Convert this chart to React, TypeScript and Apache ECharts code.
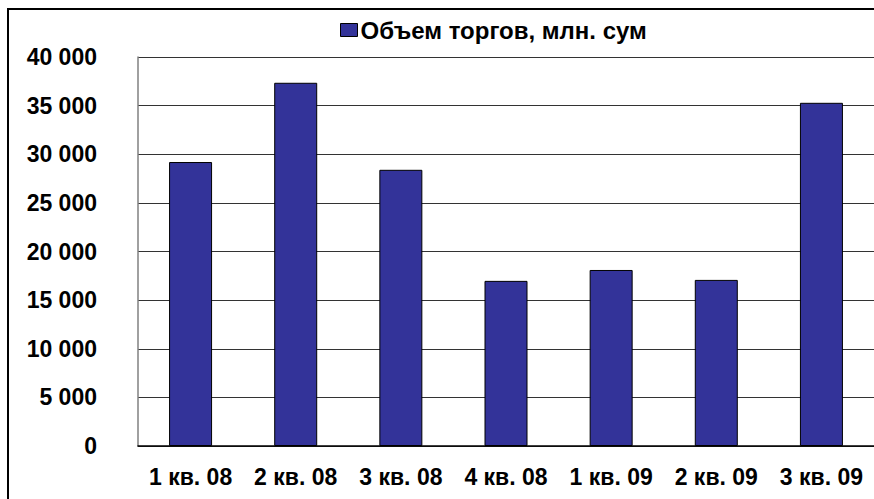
import React, { useEffect, useRef } from "react";
import * as echarts from "echarts";

const categories = ["1 кв. 08", "2 кв. 08", "3 кв. 08", "4 кв. 08", "1 кв. 09", "2 кв. 09", "3 кв. 09"];
const seriesName = "Объем торгов, млн. сум";
const volumes = [29200, 37350, 28400, 16980, 18100, 17080, 35290];
const yTicks = { min: 0, max: 40000, interval: 5000 };

const FONT = "'Liberation Sans', Arial, sans-serif";

function fmt(v: number): string {
  return String(v).replace(/\B(?=(\d{3})+(?!\d))/g, " ");
}

export default function App() {
  const ref = useRef<HTMLDivElement>(null);
  useEffect(() => {
    const chart = echarts.init(ref.current!, null, { renderer: "svg" });
    chart.setOption({
      animation: false,
      backgroundColor: "#ffffff",
      graphic: [
        {
          type: "rect",
          shape: { x: 8, y: 9, width: 900, height: 520 },
          style: { fill: "none", stroke: "#000", lineWidth: 2 },
          silent: true,
        },
      ],
      legend: {
        top: 13,
        left: 335,
        itemWidth: 17,
        itemHeight: 13,
        itemGap: 3,
        icon: "rect",
        textStyle: { fontFamily: FONT, fontWeight: "bold", fontSize: 24, color: "#000", padding: [0, 0, 0, -2] },
        data: [{ name: seriesName, itemStyle: { borderColor: "#000", borderWidth: 1 } }],
      },
      grid: { left: 138, right: -1, top: 57, bottom: 53, containLabel: false },
      xAxis: {
        type: "category",
        data: categories,
        axisLine: { lineStyle: { color: "#000", width: 1.5 } },
        axisTick: { show: false },
        axisLabel: { fontFamily: FONT, fontWeight: "bold", fontSize: 23, color: "#000", margin: 19, interval: 0 },
      },
      yAxis: {
        type: "value",
        min: yTicks.min,
        max: yTicks.max,
        interval: yTicks.interval,
        axisLine: { show: true, lineStyle: { color: "#808080", width: 1.5 } },
        axisTick: { show: false },
        splitLine: { lineStyle: { color: "#333", width: 1 } },
        axisLabel: { fontFamily: FONT, fontWeight: "bold", fontSize: 23, color: "#000", margin: 41, formatter: (v: number) => fmt(v) },
      },
      series: [
        {
          type: "bar",
          name: seriesName,
          data: volumes,
          barWidth: 43,
          itemStyle: { color: "#333399", borderColor: "#000", borderWidth: 1 },
        },
      ],
    });
    return () => chart.dispose();
  }, []);
  return <div ref={ref} style={{ position: "fixed", left: 0, top: 0, width: 874, height: 499 }} />;
}
